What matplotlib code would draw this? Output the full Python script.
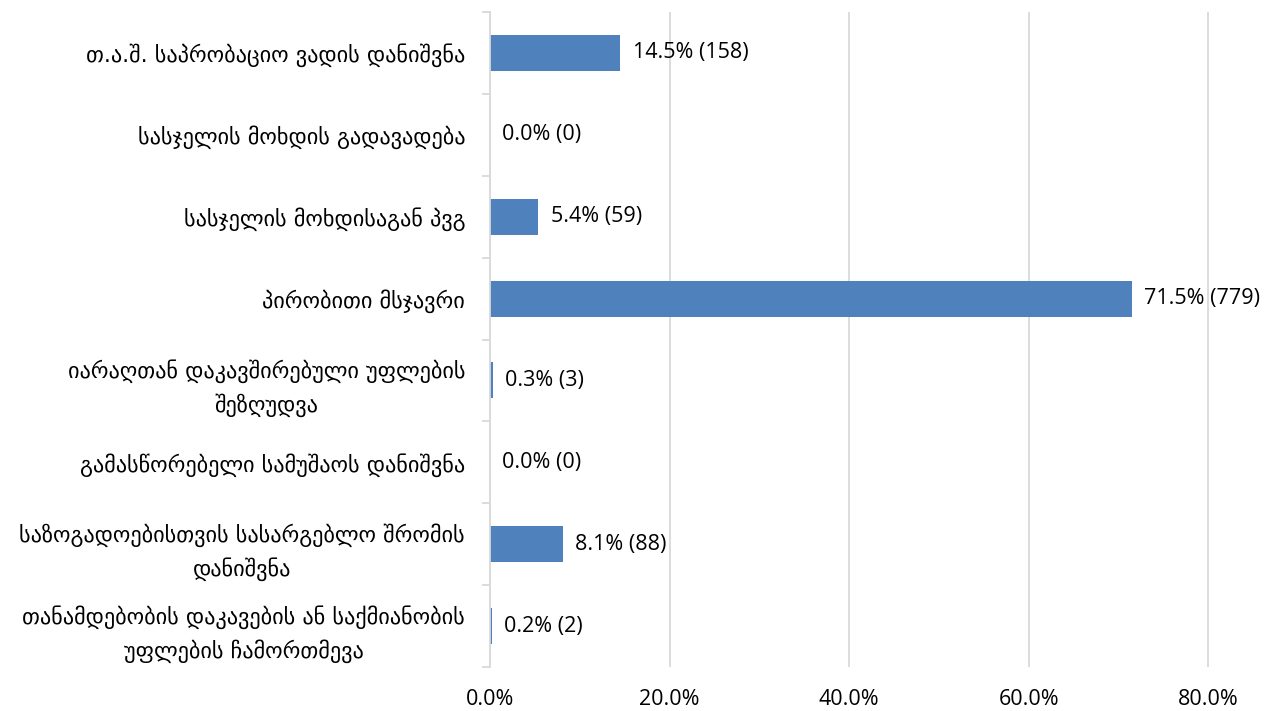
import matplotlib
matplotlib.use("Agg")
import matplotlib.pyplot as plt
import numpy as np

categories = [
    "თ.ა.შ. საპრობაციო ვადის დანიშვნა",
    "სასჯელის მოხდის გადავადება",
    "სასჯელის მოხდისაგან პვგ",
    "პირობითი მსჯავრი",
    "იარაღთან დაკავშირებული უფლების\nშეზღუდვა",
    "გამასწორებელი სამუშაოს დანიშვნა",
    "საზოგადოებისთვის სასარგებლო შრომის\nდანიშვნა",
    "თანამდებობის დაკავების ან საქმიანობის\nუფლების ჩამორთმევა",
]
shares = [0.145, 0.000, 0.054, 0.715, 0.003, 0.000, 0.081, 0.002]
counts = [158, 0, 59, 779, 3, 0, 88, 2]
xticks = [0.0, 0.2, 0.4, 0.6, 0.8]
xticklabels = ["0.0%", "20.0%", "40.0%", "60.0%", "80.0%"]

plt.rcParams['font.family'] = ['Open Sans', 'DejaVu Sans']

W, H = 1280, 711
fig = plt.figure(figsize=(W / 100, H / 100), dpi=100)
left_px, right_px, top_px, bot_px = 490, 1253, 12, 667
ax = fig.add_axes([left_px / W, 1 - bot_px / H, (right_px - left_px) / W, (bot_px - top_px) / H])

n = len(categories)
y = np.arange(n)
ax.barh(y, shares, height=0.44, color="#4F81BD", zorder=2)
ax.set_ylim(n - 0.5, -0.5)
ax.set_xlim(0, 0.85)

for yi, s, c in zip(y, shares, counts):
    ax.annotate(f"{s*100:.1f}% ({c})", xy=(s, yi), xytext=(9, 0), textcoords="offset points",
                va="center", ha="left", fontsize=15.5, color="black")

ax.set_xticks(xticks)
ax.set_xticklabels(xticklabels, fontsize=15.5)
ax.tick_params(axis='x', length=0, pad=16)
ax.xaxis.grid(True, color="#D9D9D9", linewidth=1.3, zorder=0)

ax.set_yticks(y)
ax.set_yticklabels(categories, fontsize=16, family=['DejaVu Sans'], linespacing=1.55)
ax.tick_params(axis='y', which='major', length=0, pad=18)
ax.set_yticks(np.arange(-0.5, n + 0.5, 1), minor=True)
ax.tick_params(axis='y', which='minor', length=6, color="#D9D9D9", width=1.3)
for lab in ax.get_yticklabels():
    lab.set_multialignment('center')

for sp in ["top", "right", "bottom"]:
    ax.spines[sp].set_visible(False)
ax.spines["left"].set_color("#D9D9D9")
ax.spines["left"].set_linewidth(1.3)
ax.spines["left"].set_zorder(4)

fig.savefig("out.png", dpi=100)
